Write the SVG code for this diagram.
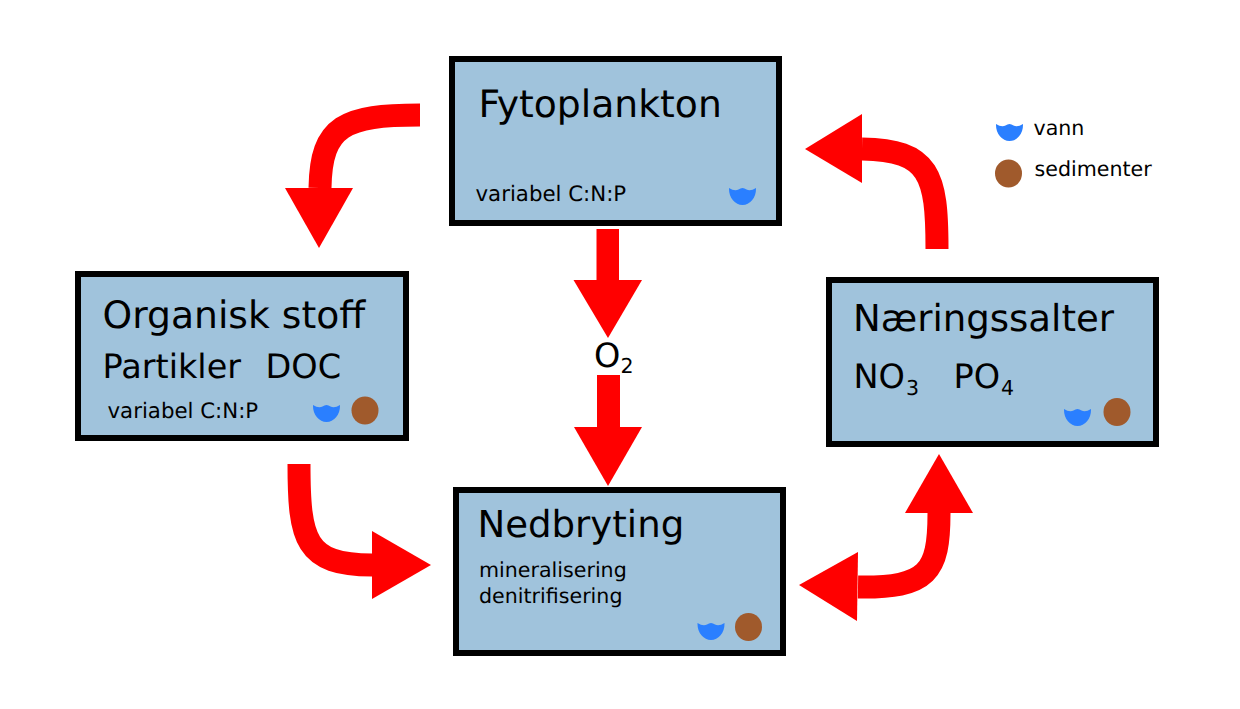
<svg xmlns="http://www.w3.org/2000/svg" width="1240" height="709" viewBox="0 0 1240 709">
<style>
text{font-family:"DejaVu Sans",sans-serif;fill:#000;text-rendering:geometricPrecision}
.box{fill:#a0c3dc;stroke:#000;stroke-width:6}
.t{font-size:37.700px}.t2{font-size:37.100px}.m{font-size:33.500px}.s{font-size:20.600px}.v{font-size:21.300px}.sub{font-size:20.500px}
.shaft{fill:none;stroke:#f00;stroke-width:23}
.head{fill:#f00}
.sed{fill:#a05a2c}
.water{fill:#2a7fff}
</style>
<defs>
<path id="drop" d="M-13.500 0Q-8 3.600-4 1.600Q0-1.800 4 1.600Q8 3.600 13.500 0L13.500 1A13.500 16 0 0 1-13.500 1Z"/>
</defs>
<rect width="1240" height="709" fill="#fff"/>
<g id="connectors">
<path class="shaft" d="M420 115C345 115 321 125 320 188"/>
<polygon class="head" points="285,188 353,188 319,248"/>
<rect class="head" x="596.500" y="229" width="22.500" height="52"/>
<polygon class="head" points="573.500,280 642,280 608,338"/>
<rect class="head" x="597" y="375" width="23" height="53"/>
<polygon class="head" points="574,427 642,427 608,486"/>
<path class="shaft" d="M937 249C937 175 930 150 862 149"/>
<polygon class="head" points="862,114 862,183 805,149"/>
<path class="shaft" d="M299 464C299 540 305 565 372 565"/>
<polygon class="head" points="372,531 372,599 431,565"/>
<path class="shaft" d="M939 513C939 572 928 588 858 587"/>
<polygon class="head" points="905,513 973,513 939,454"/>
<polygon class="head" points="858,552 857,621 799,585"/>
</g>
<g id="fytoplankton">
<rect class="box" x="452" y="59" width="327" height="164"/>
<text class="t" x="478.500" y="117">Fytoplankton</text>
<text class="v" x="475.500" y="201">variabel C:N:P</text>
<use href="#drop" class="water" x="742.500" y="188"/>
</g>
<g id="organisk-stoff">
<rect class="box" x="78" y="274" width="328" height="164"/>
<text class="t" x="102.500" y="328">Organisk stoff</text>
<text class="m" x="102.500" y="378">Partikler</text>
<text class="m" x="265.500" y="378">DOC</text>
<text class="v" x="107.500" y="418">variabel C:N:P</text>
<use href="#drop" class="water" x="326.500" y="405"/>
<ellipse class="sed" cx="365" cy="410.500" rx="13.500" ry="14"/>
</g>
<g id="naeringssalter">
<rect class="box" x="829" y="280" width="327" height="164"/>
<text class="t2" x="853" y="331">Næringssalter</text>
<text class="m" x="853.500" y="388">NO<tspan class="sub" dx="1" dy="7">3</tspan></text>
<text class="m" x="953.500" y="388">PO<tspan class="sub" dx="1" dy="7">4</tspan></text>
<use href="#drop" class="water" x="1077.500" y="409"/>
<ellipse class="sed" cx="1117" cy="412" rx="13.500" ry="14"/>
</g>
<g id="nedbryting">
<rect class="box" x="456" y="490" width="327" height="163"/>
<text class="t2" x="477.500" y="537">Nedbryting</text>
<text class="s" x="479" y="577">mineralisering</text>
<text class="s" x="479" y="603">denitrifisering</text>
<use href="#drop" class="water" x="711" y="623"/>
<ellipse class="sed" cx="748.500" cy="627" rx="13.500" ry="14"/>
</g>
<g id="o2">
<text class="m" x="594" y="367">O<tspan class="sub" dx="0" dy="6">2</tspan></text>
</g>
<g id="legend">
<use href="#drop" class="water" x="1009.500" y="124"/>
<text class="s" x="1033.500" y="135">vann</text>
<ellipse class="sed" cx="1008.500" cy="173.500" rx="13.500" ry="14"/>
<text class="s" x="1034.500" y="176">sedimenter</text>
</g>
</svg>
